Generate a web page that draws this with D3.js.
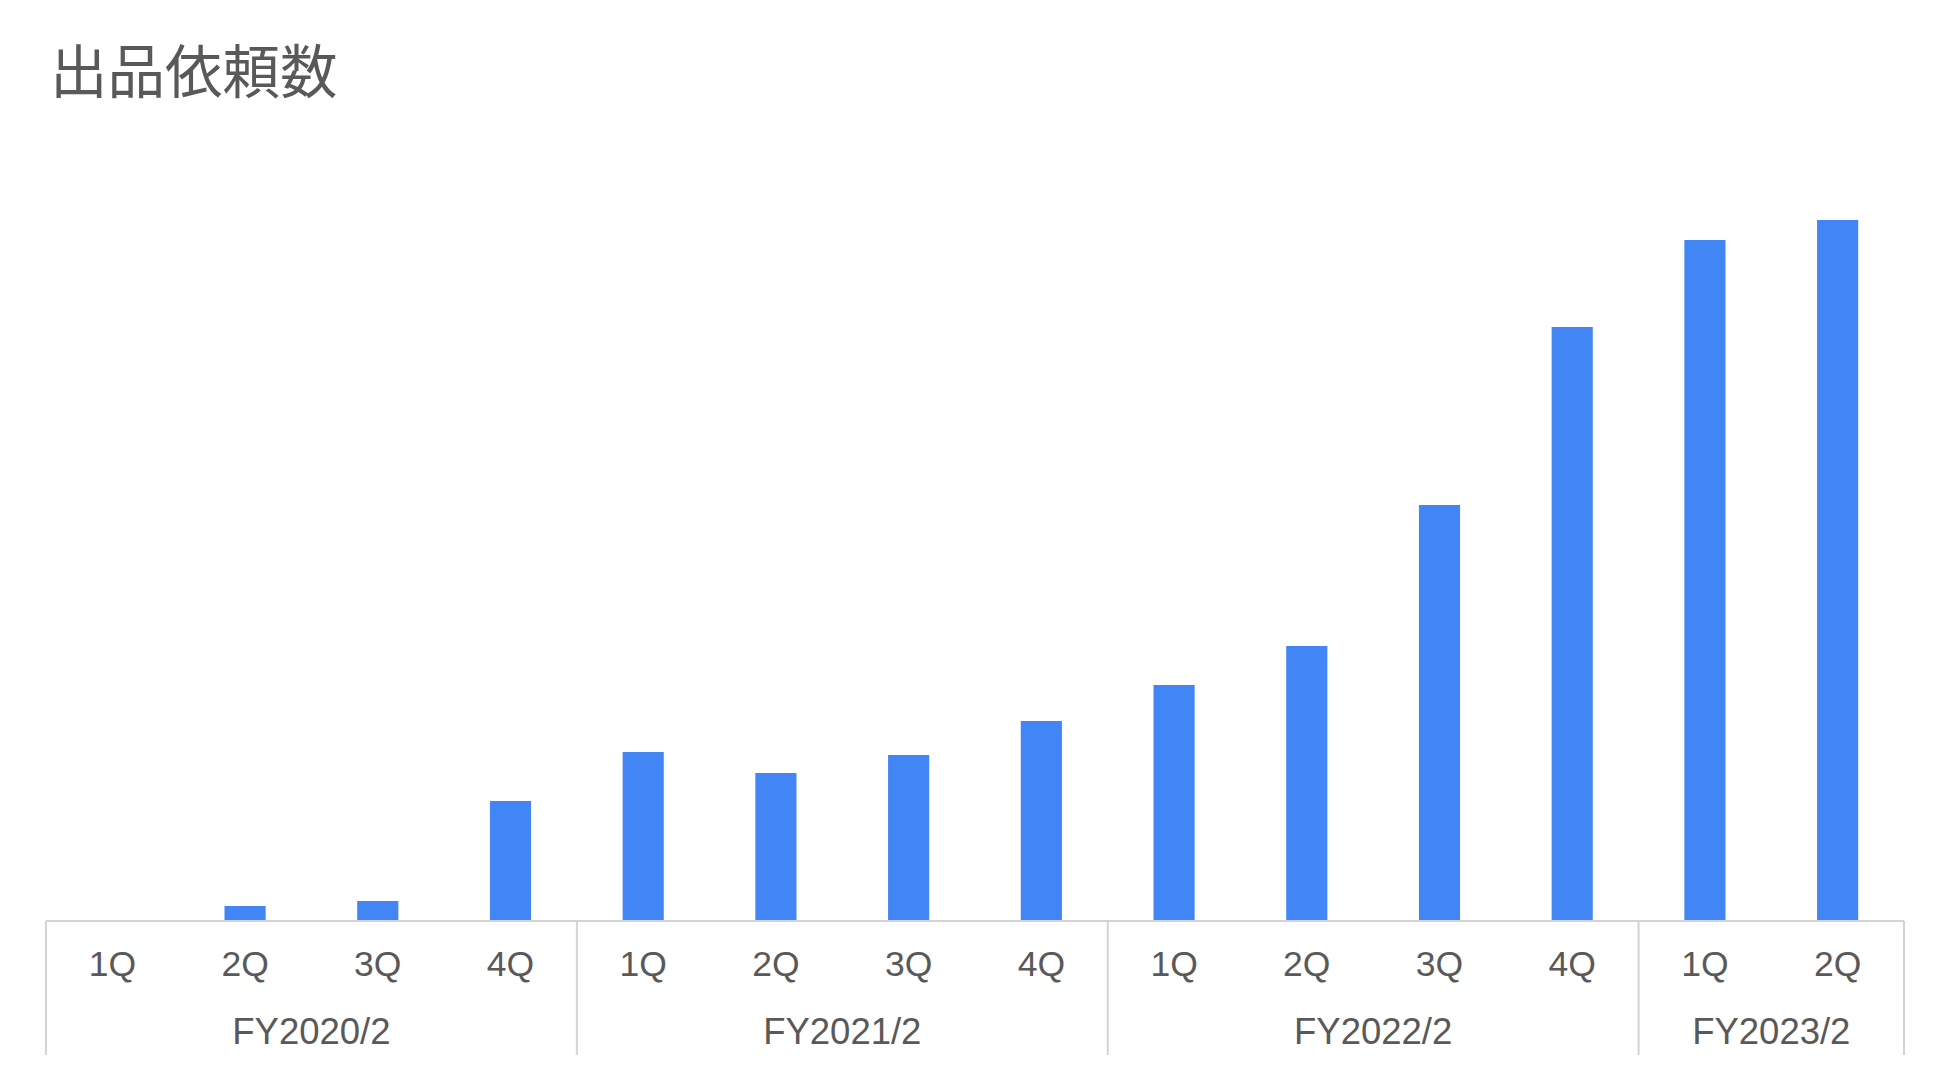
<!DOCTYPE html>
<html>
<head>
<meta charset="utf-8">
<script src="https://cdn.jsdelivr.net/npm/d3@7"></script>
<style>
  html, body { margin: 0; padding: 0; background: #fff; }
  svg { display: block; }
</style>
</head>
<body>
<svg id="chart" width="1950" height="1076"></svg>
<script>
// ---- data ----
const title = "出品依頼数";
const quarters = ["1Q","2Q","3Q","4Q","1Q","2Q","3Q","4Q","1Q","2Q","3Q","4Q","1Q","2Q"];
const fiscalYears = ["FY2020/2","FY2020/2","FY2020/2","FY2020/2",
                     "FY2021/2","FY2021/2","FY2021/2","FY2021/2",
                     "FY2022/2","FY2022/2","FY2022/2","FY2022/2",
                     "FY2023/2","FY2023/2"];
const values = [0, 15, 20, 120, 169, 148, 166, 200, 236, 275, 416, 594, 681, 701];
const groups = ["FY2020/2","FY2021/2","FY2022/2","FY2023/2"];

// ---- layout ----
const svg = d3.select("#chart");
const left = 46, right = 1904, baseline = 921, bottomEdge = 1055;
const keys = d3.range(values.length);

const x = d3.scaleBand().domain(keys).range([left, right]).padding(0);
const y = d3.scaleLinear().domain([0, 720]).range([baseline, baseline - 720]);

const textColor = "#595959";
const gridColor = "#d3d3d3";
const barColor = "#4285f4";

// title
svg.append("text")
  .attr("x", 50).attr("y", 93)
  .attr("font-family", "'Noto Sans CJK JP', 'Noto Sans CJK SC', sans-serif")
  .attr("font-size", 57.5)
  .attr("fill", textColor)
  .text(title);

// bars
const barW = x.bandwidth() * 0.31;
svg.append("g").selectAll("rect")
  .data(keys)
  .join("rect")
  .attr("x", i => x(i) + x.bandwidth() / 2 - barW / 2)
  .attr("width", barW)
  .attr("y", i => y(values[i]))
  .attr("height", i => y(0) - y(values[i]))
  .attr("fill", barColor);

// quarter axis
const axis = d3.axisBottom(x).tickSize(0).tickPadding(0).tickFormat(i => quarters[i]);
const ax = svg.append("g").attr("transform", `translate(0,${baseline})`).call(axis);
ax.select(".domain").remove();
ax.selectAll("text")
  .attr("y", 55)
  .attr("dy", null)
  .attr("font-family", "'Liberation Sans', Arial, sans-serif")
  .attr("font-size", 35.5)
  .attr("fill", textColor);

// baseline
svg.append("line")
  .attr("x1", left).attr("x2", right)
  .attr("y1", baseline).attr("y2", baseline)
  .attr("stroke", gridColor).attr("stroke-width", 2);

// group dividers and labels
const groupInfo = groups.map(g => {
  const idx = keys.filter(i => fiscalYears[i] === g);
  return { name: g, start: x(idx[0]), end: x(idx[idx.length - 1]) + x.bandwidth() };
});
const bounds = [groupInfo[0].start, ...groupInfo.map(d => d.end)];
svg.append("g").selectAll("line")
  .data(bounds)
  .join("line")
  .attr("x1", d => d).attr("x2", d => d)
  .attr("y1", baseline).attr("y2", bottomEdge)
  .attr("stroke", gridColor).attr("stroke-width", 2);

svg.append("g").selectAll("text")
  .data(groupInfo)
  .join("text")
  .attr("x", d => (d.start + d.end) / 2)
  .attr("y", 1044)
  .attr("text-anchor", "middle")
  .attr("font-family", "'Liberation Sans', Arial, sans-serif")
  .attr("font-size", 36.5)
  .attr("fill", textColor)
  .text(d => d.name);
</script>
</body>
</html>
